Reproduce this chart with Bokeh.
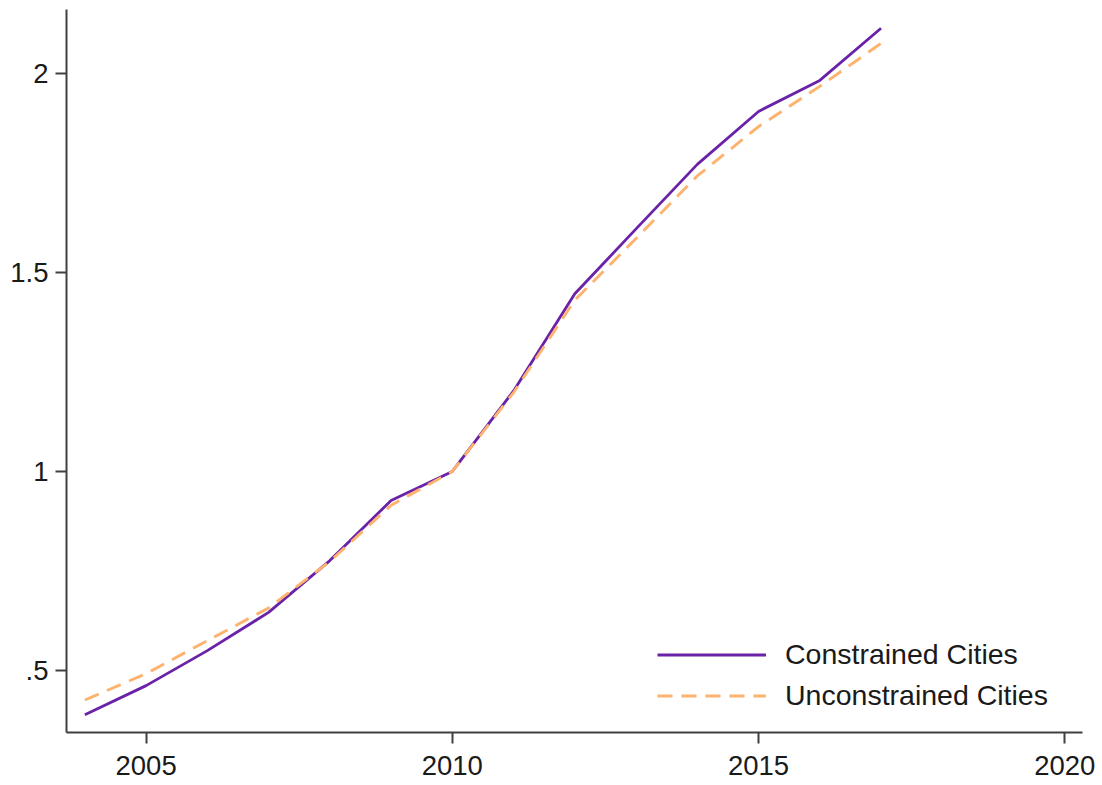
from bokeh.plotting import figure
from bokeh.models import Range1d, FixedTicker, Legend, LegendItem
from bokeh.embed import file_html
from bokeh.resources import INLINE

years = [2004, 2005, 2006, 2007, 2008, 2009, 2010, 2011, 2012, 2013, 2014, 2015, 2016, 2017]
constrained = [0.389, 0.462, 0.550, 0.646, 0.776, 0.927, 1.000, 1.202, 1.446, 1.609, 1.771, 1.904, 1.982, 2.113]
unconstrained = [0.426, 0.492, 0.575, 0.657, 0.774, 0.915, 1.000, 1.198, 1.430, 1.585, 1.742, 1.866, 1.967, 2.075]

x_ticks = [2005, 2010, 2015, 2020]
y_ticks = [0.5, 1.0, 1.5, 2.0]
y_tick_labels = {0.5: ".5", 1.0: "1", 1.5: "1.5", 2.0: "2"}
series_names = ["Constrained Cities", "Unconstrained Cities"]

FONT = "Liberation Sans"
AXIS_COLOR = "#404040"
TEXT_COLOR = "#1a1a1a"

p = figure(width=1100, height=785, output_backend="svg", toolbar_location=None,
           x_range=Range1d(2003.70, 2020.29), y_range=Range1d(0.3443, 2.160),
           min_border_left=66, min_border_right=18, min_border_top=9, min_border_bottom=53)
p.outline_line_color = None
p.background_fill_color = "white"
p.border_fill_color = "white"
p.xgrid.visible = False
p.ygrid.visible = False

r1 = p.line(years, constrained, line_color="#6a22a8", line_width=2.8)
r2 = p.line(years, unconstrained, line_color="#fdb26e", line_width=2.9, line_dash="15 9")

for ax in (p.xaxis[0], p.yaxis[0]):
    ax.axis_line_color = AXIS_COLOR
    ax.axis_line_width = 2
    ax.major_tick_line_color = AXIS_COLOR
    ax.major_tick_line_width = 2
    ax.major_tick_out = 11
    ax.major_tick_in = 0
    ax.minor_tick_line_color = None
    ax.major_label_text_font = FONT
    ax.major_label_text_font_size = "27.5px"
    ax.major_label_text_color = TEXT_COLOR

p.xaxis[0].ticker = FixedTicker(ticks=x_ticks)
p.xaxis[0].major_label_standoff = 12
p.yaxis[0].ticker = FixedTicker(ticks=y_ticks)
p.yaxis[0].major_label_overrides = y_tick_labels
p.yaxis[0].major_label_standoff = 7
p.yaxis[0].major_label_orientation = "horizontal"

legend = Legend(items=[LegendItem(label=series_names[0], renderers=[r1]),
                       LegendItem(label=series_names[1], renderers=[r2])],
                location=(591, 20), orientation="vertical",
                label_text_font=FONT, label_text_font_size="28.5px", label_text_color=TEXT_COLOR,
                glyph_width=109, glyph_height=33, label_height=33, label_standoff=19,
                spacing=8, padding=0, margin=0,
                border_line_alpha=0, background_fill_alpha=0)
p.add_layout(legend)

open("out.html", "w").write(file_html(p, INLINE))
